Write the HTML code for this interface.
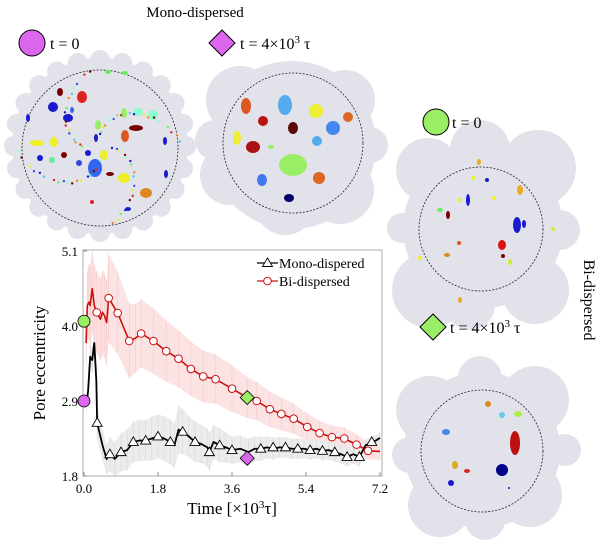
<!DOCTYPE html>
<html><head><meta charset="utf-8">
<style>
html,body{margin:0;padding:0;background:#fff;}
svg{display:block;font-family:"Liberation Serif",serif;}
</style></head>
<body>
<svg id="fig" width="600" height="545" viewBox="0 0 600 545" xmlns="http://www.w3.org/2000/svg">
  <text x="195" y="17" font-size="15" text-anchor="middle">Mono-dispersed</text>
  <g>
    <circle cx="32" cy="43" r="13" fill="#dd66ee" stroke="#000" stroke-width="1"/>
    <text x="50" y="49" font-size="16">t = 0</text>
  </g>
  <g>
    <polygon points="222,30 235,43 222,56 209,43" fill="#dd66ee" stroke="#000" stroke-width="1"/>
    <text x="240" y="49" font-size="16">t = 4×10<tspan font-size="11" dy="-6">3</tspan><tspan dy="6"> τ</tspan></text>
  </g>
  <g id="blobs"></g>
  <g>
    <circle cx="436" cy="122" r="13" fill="#99ee66" stroke="#000" stroke-width="1"/>
    <text x="452" y="128" font-size="16">t = 0</text>
  </g>
  <g>
    <polygon points="433,314 446,327 433,340 420,327" fill="#99ee66" stroke="#000" stroke-width="1"/>
    <text x="450" y="333" font-size="16">t = 4×10<tspan font-size="11" dy="-6">3</tspan><tspan dy="6"> τ</tspan></text>
  </g>
  <text transform="translate(584,300) rotate(90)" font-size="16" text-anchor="middle">Bi-dispersed</text>
  <g id="chart"></g>
</svg>
<script>
const NS="http://www.w3.org/2000/svg";
function mk(tag,attrs,parent){const e=document.createElementNS(NS,tag);for(const k in attrs)e.setAttribute(k,attrs[k]);parent.appendChild(e);return e;}

// ---------- snapshots (illustrations) ----------
const blobs=document.getElementById('blobs');
const GRAY="#e2e2ea";
function panel(name,outline,dash,pores){
  const g=mk('g',{},blobs);
  
  
  outline.forEach(c=>mk('circle',{cx:c[0],cy:c[1],r:c[2],fill:GRAY},g));
  mk('circle',{cx:dash[0],cy:dash[1],r:dash[2],fill:'none',stroke:'#222','stroke-width':0.8,'stroke-dasharray':'2,1.5'},g);
  pores.forEach(p=>mk('ellipse',{cx:p[0],cy:p[1],rx:p[2],ry:p[3],fill:p[4]},g));
}
// mono t=0
(function(){
  const out=[[100,146,88]];
  for(let a=0;a<360;a+=15){const r=a*Math.PI/180;out.push([100+86*Math.cos(r),146+86*Math.sin(r),10]);}
  const cols=["#1a1ad0","#3355ee","#66ee66","#eeee22","#dd2222","#ee8822","#7a0000","#44ccee","#88ffcc"];
  const p=[[60,92,3,4,"#7a0000"],[53,107,5,5,"#1a1ad0"],[82,97,5,6,"#dd2222"],[125,73,3,2,"#66ee66"],[108,72,3,2,"#66ee66"],
  [138,112,5,4,"#88ffcc"],[153,115,5,5,"#88ffcc"],[136,128,7,3,"#7a0000"],[125,136,4,6,"#dd5522"],[124,113,3,5,"#99ee66"],
  [98,125,3,5,"#99ee66"],[54,142,4,5,"#eeee22"],[37,143,7,3,"#eeee22"],[68,118,5,4,"#1a1ad0"],[95,168,7,9,"#3366ee"],
  [104,155,4,5,"#eeee22"],[124,178,6,5,"#eeee22"],[146,193,6,5,"#dd8822"],[79,163,3,3,"#3344dd"],[64,155,3,3,"#7a0000"],
  [40,158,3,3,"#1a1ad0"],[52,160,3,3,"#66ee99"],[110,174,4,2,"#7a0000"],[88,153,3,3,"#1a1ad0"],[165,141,2,4,"#1a1ad0"],
  [28,118,2,4,"#1a1ad0"],[166,174,2,4,"#1a1ad0"],[128,209,3,2,"#1a1ad0"],[72,110,2,3,"#3366ee"],[92,202,2,2,"#dd2222"],[96,138,2,4,"#1a1ad0"]];
  for(let i=0;i<70;i++){const a=i*2.4,r=12+ (i*37%70);p.push([100+r*Math.cos(a),148+r*Math.sin(a),1.2,1.2,cols[i%cols.length]]);}
  panel('mono-snapshot-t0',out,[100,148,78],p);
})();
// mono t=4e3
panel('mono-snapshot-t4',[[292,145,84],[240,100,34],[345,100,30],[230,175,30],[340,190,34],[285,205,30],[215,140,20],[370,145,18]],[293,143,70],
[[246,106,5,8,"#dd5522"],[285,105,7,10,"#55aaee"],[316,111,7,7,"#eeee33"],[348,117,5,5,"#dd6622"],[263,121,5,5,"#bb1111"],
[293,128,5,6,"#5a0808"],[333,128,7,7,"#4488ee"],[237,138,4,7,"#eeee33"],[253,147,7,6,"#aa1111"],[271,147,3,2,"#99ee66"],
[317,141,5,5,"#55aaee"],[293,165,14,11,"#99ee66"],[262,180,5,6,"#4477ee"],[319,178,6,6,"#dd6622"],[289,198,5,4,"#000066"]]);
// bi t=0
panel('bi-snapshot-t0',[[483,228,80],[428,170,32],[538,168,38],[430,290,38],[535,290,34],[480,150,30],[470,305,25],[560,230,20],[402,228,15]],[481,229,62],
[[520,190,3,5,"#eeaa22"],[479,162,2,3,"#eeaa22"],[468,200,2,6,"#1a1ad0"],[517,225,4,8,"#1a1ad0"],[524,224,2,4,"#1a1ad0"],
[502,245,4,5,"#dd1111"],[503,256,2,2,"#7a0000"],[448,215,2,4,"#7a0000"],[459,243,2,2,"#dd5522"],[510,262,2,3,"#ccee33"],
[460,200,2,2,"#eeee33"],[440,210,3,2,"#66ee66"],[494,198,2,2,"#eeee33"],[447,255,3,2,"#dd8822"],[460,300,2,3,"#eeaa22"],
[420,258,2,2,"#eeee33"],[553,229,2,2,"#ccee33"],[473,178,2,2,"#eeee33"],[487,180,2,2,"#1a1ad0"]]);
// bi t=4e3
panel('bi-snapshot-t4',[[482,450,78],[430,410,34],[535,400,34],[440,505,32],[530,495,32],[480,378,22],[565,450,16],[410,455,18],[485,520,20]],[482,451,61],
[[488,404,3,3,"#dd8822"],[502,415,3,3,"#66ccee"],[518,414,4,3,"#aaee44"],[446,432,4,3,"#4488ee"],[515,443,5,12,"#bb1111"],
[455,465,3,4,"#ddaa22"],[467,471,3,2,"#dd2222"],[502,470,6,6,"#000088"],[451,483,3,3,"#1a1ad0"],[509,488,1,1,"#1a1ad0"]]);

// ---------- chart data ----------
const xTicks=[0.0,1.8,3.6,5.4,7.2];
const yTicks=[1.8,2.9,4.0,5.1];
const monoT=[0.05,0.08,0.1,0.15,0.2,0.25,0.3,0.32,0.45,0.55,0.63,0.75,0.9,1.05,1.2,1.35,1.5,1.65,1.8,1.95,2.1,2.2,2.3,2.4,2.55,2.7,2.85,3.0,3.05,3.15,3.3,3.45,3.6,3.8,4.0,4.15,4.3,4.45,4.6,4.75,4.9,5.05,5.2,5.35,5.5,5.65,5.8,5.95,6.1,6.25,6.4,6.55,6.7,6.85,7.0,7.1,7.2];
const monoV=[2.85,2.95,3.05,3.55,3.5,3.75,3.2,2.58,2.25,2.05,2.12,2.05,2.15,2.18,2.3,2.32,2.32,2.35,2.38,2.35,2.3,2.25,2.48,2.45,2.38,2.3,2.27,2.22,2.15,2.3,2.25,2.22,2.18,2.2,2.15,2.2,2.2,2.22,2.2,2.22,2.22,2.2,2.2,2.2,2.18,2.2,2.17,2.18,2.15,2.12,2.08,2.12,2.08,2.25,2.3,2.32,2.36];
const monoErr=[0.1,0.1,0.1,0.15,0.2,0.2,0.25,0.25,0.22,0.22,0.25,0.25,0.28,0.3,0.3,0.3,0.3,0.32,0.32,0.33,0.33,0.33,0.35,0.33,0.3,0.3,0.28,0.28,0.28,0.25,0.25,0.22,0.2,0.2,0.2,0.18,0.18,0.16,0.16,0.15,0.15,0.15,0.15,0.14,0.14,0.14,0.14,0.14,0.14,0.14,0.14,0.14,0.14,0.08,0.08,0.08,0.08];
const monoMarkT=[0.32,0.63,0.9,1.2,1.5,1.8,2.1,2.4,2.7,3.05,3.3,3.6,4.3,4.6,4.9,5.2,5.5,5.8,6.1,6.4,6.7,7.0];
const monoMarkV=[2.58,2.12,2.15,2.3,2.32,2.38,2.3,2.45,2.3,2.15,2.25,2.18,2.2,2.22,2.22,2.2,2.18,2.17,2.15,2.08,2.08,2.3];
const biT=[0.05,0.08,0.12,0.15,0.2,0.25,0.31,0.4,0.45,0.5,0.55,0.6,0.82,1.1,1.25,1.39,1.69,2.0,2.3,2.6,2.9,3.2,3.6,3.97,4.2,4.52,4.8,5.1,5.43,5.73,6.03,6.33,6.63,6.91,7.2];
const biV=[3.75,4.3,4.35,4.3,4.55,4.3,4.2,4.1,4.2,4.15,4.05,4.41,4.19,3.78,3.82,3.89,3.78,3.63,3.52,3.37,3.26,3.22,3.08,2.95,2.9,2.78,2.71,2.64,2.52,2.43,2.37,2.35,2.26,2.17,2.16];
const biErr=[0.3,0.5,0.55,0.6,0.65,0.6,0.6,0.6,0.62,0.62,0.62,0.65,0.6,0.55,0.5,0.5,0.48,0.45,0.42,0.4,0.38,0.36,0.34,0.3,0.28,0.26,0.24,0.22,0.2,0.18,0.17,0.16,0.15,0.13,0.12];
const biMarkT=[0.31,0.6,0.82,1.1,1.39,1.69,2.0,2.3,2.6,2.9,3.2,3.6,4.2,4.52,4.8,5.1,5.43,5.73,6.03,6.33,6.63,6.91];
const biMarkV=[4.2,4.41,4.19,3.78,3.89,3.78,3.63,3.52,3.37,3.26,3.22,3.08,2.9,2.78,2.71,2.64,2.52,2.43,2.37,2.35,2.26,2.17];
const highlightT=[0.0,0.0,3.97,3.97];
const highlightV=[4.07,2.9,2.95,2.06];

// ---------- chart drawing ----------
const L=83,R=382,T=251,B=476,X0=0,X1=7.25,Y0=1.8,Y1=5.1;
const sx=t=>84+(t-0)*(380-84)/7.2;
const sy=v=>B-(v-Y0)*(B-T)/(Y1-Y0);
const chart=document.getElementById('chart');

function band(ts,vs,es,fill,name){
  let up=ts.map((t,i)=>sx(t)+','+sy(Math.min(Y1,vs[i]+es[i])));
  let dn=ts.map((t,i)=>sx(t)+','+sy(Math.max(Y0,vs[i]-es[i]))).reverse();
  const p=mk('polygon',{points:up.concat(dn).join(' '),fill:fill},chart);
  
  
  ts.forEach((t,i)=>{const l=mk('line',{x1:sx(t),x2:sx(t),y1:sy(Math.min(Y1,vs[i]+es[i])),y2:sy(Math.max(Y0,vs[i]-es[i])),stroke:fill==='#fbe3e3'?'#f5c8c8':'#d8d8d8','stroke-width':0.6},chart);});
}
band(biT,biV,biErr,'#fbe3e3','bi-error-band');
band(monoT,monoV,monoErr,'#ececec','mono-error-band');

// frame
const fr=mk('rect',{x:L,y:T-1,width:R-L,height:B-T+1,fill:'none',stroke:'#999','stroke-width':0.8},chart);


xTicks.forEach(t=>{
  mk('line',{x1:sx(t),x2:sx(t),y1:B,y2:B-4,stroke:'#777','stroke-width':0.8},chart);
  const tx=mk('text',{x:sx(t),y:B+17,'font-size':13,'text-anchor':'middle'},chart);
  tx.textContent=t.toFixed(1);
  
  
});
yTicks.forEach(v=>{
  mk('line',{x1:L,x2:L+4,y1:sy(v),y2:sy(v),stroke:'#777','stroke-width':0.8},chart);
  const tx=mk('text',{x:L-5,y:sy(v)+5,'font-size':13,'text-anchor':'end'},chart);
  tx.textContent=v.toFixed(1);
  
  
});
const yl=mk('text',{transform:'translate(45,363) rotate(-90)','font-size':17,'text-anchor':'middle'},chart);
yl.textContent='Pore eccentricity';


const xl=mk('text',{x:232,y:514,'font-size':17,'text-anchor':'middle'},chart);
xl.innerHTML='Time [×10<tspan font-size="11" dy="-6">3</tspan><tspan dy="6">τ]</tspan>';



function line(ts,vs,col,w,name){
  const p=mk('polyline',{points:ts.map((t,i)=>sx(t)+','+sy(vs[i])).join(' '),fill:'none',stroke:col,'stroke-width':w,'stroke-linejoin':'round'},chart);
  
  
}
line(biT,biV,'#cc1111',1.6,'bi-line');
line(monoT,monoV,'#000',1.8,'mono-line');
biMarkT.forEach((t,i)=>{
  const c=mk('circle',{cx:sx(t),cy:sy(biMarkV[i]),r:3.8,fill:'#fff',stroke:'#cc1111','stroke-width':1},chart);
  
  
});
monoMarkT.forEach((t,i)=>{
  const x=sx(t),y=sy(monoMarkV[i]);
  const c=mk('polygon',{points:`${x},${y-5} ${x+5},${y+3.5} ${x-5},${y+3.5}`,fill:'#fff',stroke:'#000','stroke-width':0.9},chart);
  
  
});
// highlight markers
[['#99ee66','c'],['#dd66ee','c'],['#99ee66','d'],['#dd66ee','d']].forEach((m,i)=>{
  const x=sx(highlightT[i]),y=sy(highlightV[i]);let e;
  if(m[1]==='c') e=mk('circle',{cx:x,cy:y,r:6,fill:m[0],stroke:'#000','stroke-width':0.8},chart);
  else e=mk('polygon',{points:`${x},${y-7} ${x+7},${y} ${x},${y+7} ${x-7},${y}`,fill:m[0],stroke:'#000','stroke-width':0.8},chart);
  
  
});
// legend
const lg=mk('g',{},chart);


mk('line',{x1:257,x2:278,y1:263,y2:263,stroke:'#000','stroke-width':1.2},lg);
mk('polygon',{points:'267.5,258 272.5,266.5 262.5,266.5',fill:'#fff',stroke:'#000','stroke-width':0.9},lg);
const t1=mk('text',{x:279,y:268,'font-size':14},lg);t1.textContent='Mono-dispered';
mk('line',{x1:257,x2:278,y1:281,y2:281,stroke:'#cc1111','stroke-width':1.2},lg);
mk('circle',{cx:267.5,cy:281,r:3.8,fill:'#fff',stroke:'#cc1111','stroke-width':1},lg);
const t2=mk('text',{x:279,y:286,'font-size':14},lg);t2.textContent='Bi-dispersed';
</script>
</body></html>
